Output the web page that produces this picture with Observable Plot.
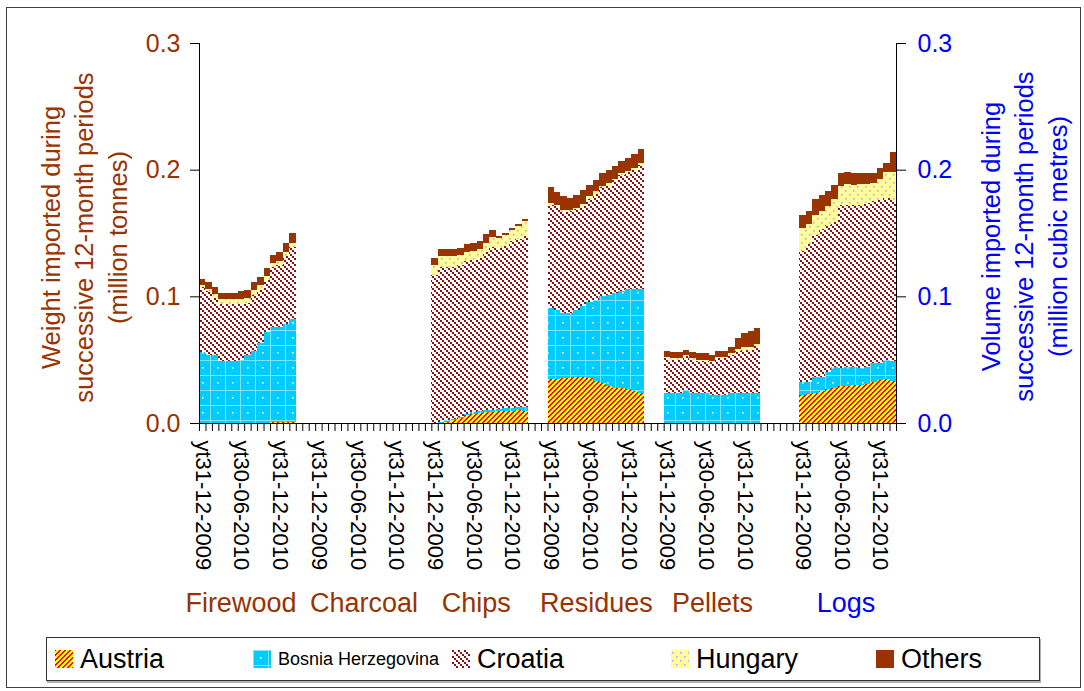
<!DOCTYPE html>
<html>
<head>
<meta charset="utf-8">
<script src="https://cdn.jsdelivr.net/npm/d3@7"></script>
<script src="https://cdn.jsdelivr.net/npm/@observablehq/plot@0.6"></script>
<style>
  html, body { margin: 0; padding: 0; background: #fff; }
  body { width: 1084px; height: 691px; position: relative; overflow: hidden;
         font-family: Arial, "Liberation Sans", sans-serif; }
  #chart { position: absolute; left: 0; top: 0; }
  #frame { position: absolute; left: 6px; top: 7px; width: 1075px; height: 681px;
           border: 1px solid #404040; box-sizing: border-box; pointer-events: none; }
  #legend { position: absolute; left: 46px; top: 637px; width: 994px; height: 44px;
            box-sizing: border-box; border: 1px solid #333; background: #fff;
            box-shadow: 1px 2px 0 #b0b0b0; }
  .item { position: absolute; top: 0; height: 42px; display: flex; align-items: center;
          color: #000; font-size: 27px; white-space: nowrap; }
  .item svg { margin-right: 7px; flex: none; }
  .item.small { font-size: 18px; }
</style>
</head>
<body>
<!-- fill patterns shared by the bars and the legend swatches -->
<svg width="0" height="0" style="position:absolute">
  <defs>
    <pattern id="pat-austria" patternUnits="userSpaceOnUse" width="5" height="5">
      <rect width="5" height="5" fill="#ffff00"/>
      <path d="M4,0h1v1h-1z M0,0h1v1h-1z M3,1h2v1h-2z M2,2h2v1h-2z M1,3h2v1h-2z M0,4h2v1h-2z" fill="#ff0000"/>
    </pattern>
    <pattern id="pat-bosnia" patternUnits="userSpaceOnUse" width="15" height="15">
      <rect width="15" height="15" fill="#00ccff"/>
      <path d="M0,0.5H15 M0.5,0V15" stroke="#80e4ff" stroke-width="1"/>
      <rect x="7" y="7" width="1.6" height="1.6" fill="#ffffff"/>
    </pattern>
    <pattern id="pat-croatia" patternUnits="userSpaceOnUse" width="6" height="6">
      <rect width="6" height="6" fill="#ffffff"/>
      <path d="M0,0h2v2h-2z M2,2h2v2h-2z M4,4h2v2h-2z" fill="#8e1010"/>
    </pattern>
    <pattern id="pat-hungary" patternUnits="userSpaceOnUse" width="8" height="8">
      <rect width="8" height="8" fill="#ffff99"/>
      <rect x="1" y="2" width="1.6" height="1.6" fill="#cc99ff"/>
      <rect x="5" y="6" width="1.6" height="1.6" fill="#cc99ff"/>
    </pattern>
  </defs>
</svg>

<div id="chart"></div>
<div id="legend"></div>
<div id="frame"></div>

<script>
// Product groups and the 12-month periods ending at each month-end
const groups = ["Firewood", "Charcoal", "Chips", "Residues", "Pellets", "Logs"];
const volumeGroups = ["Logs"]; // measured in cubic metres (right axis)
const periods = [
  "yt31-12-2009", "yt31-01-2010", "yt28-02-2010", "yt31-03-2010", "yt30-04-2010",
  "yt31-05-2010", "yt30-06-2010", "yt31-07-2010", "yt31-08-2010", "yt30-09-2010",
  "yt31-10-2010", "yt30-11-2010", "yt31-12-2010", "yt31-01-2011", "yt28-02-2011"
];
const labelledPeriods = ["yt31-12-2009", "yt30-06-2010", "yt31-12-2010"];

// Exporting countries, bottom of the stack first
const countries = ["Austria", "Bosnia Herzegovina", "Croatia", "Hungary", "Others"];
const countryFills = ["url(#pat-austria)", "url(#pat-bosnia)", "url(#pat-croatia)", "url(#pat-hungary)", "#993300"];

// Firewood (million tonnes)
const firewoodAT = [0, 0, 0, 0, 0, 0, 0, 0, 0, 0, 0, 0.001, 0.001, 0.001, 0.001];
const firewoodBA = [0.056, 0.054, 0.054, 0.049, 0.049, 0.049, 0.050, 0.054, 0.057, 0.063, 0.072, 0.075, 0.075, 0.077, 0.081];
const firewoodHR = [0.051, 0.050, 0.045, 0.045, 0.045, 0.045, 0.044, 0.041, 0.044, 0.042, 0.041, 0.047, 0.049, 0.054, 0.057];
const firewoodHU = [0.002, 0.002, 0.003, 0.004, 0.004, 0.004, 0.004, 0.004, 0.004, 0.004, 0.003, 0.003, 0.003, 0.003, 0.003];
const firewoodOT = [0.005, 0.005, 0.005, 0.005, 0.005, 0.005, 0.006, 0.006, 0.006, 0.006, 0.006, 0.007, 0.007, 0.007, 0.008];

// Charcoal (million tonnes)
const charcoalAT = [0, 0, 0, 0, 0, 0, 0, 0, 0, 0, 0, 0, 0, 0, 0];
const charcoalBA = [0, 0, 0, 0, 0, 0, 0, 0, 0, 0, 0, 0, 0, 0, 0];
const charcoalHR = [0, 0, 0, 0, 0, 0, 0, 0, 0, 0, 0, 0, 0, 0, 0];
const charcoalHU = [0, 0, 0, 0, 0, 0, 0, 0, 0, 0, 0, 0, 0, 0, 0];
const charcoalOT = [0.0002, 0.0002, 0.0002, 0.0002, 0.0002, 0.0002, 0.0002, 0.0002, 0.0002, 0.0002, 0.0002, 0.0002, 0.0002, 0.0002, 0.0002];

// Chips (million tonnes)
const chipsAT = [0, 0, 0.001, 0.0025, 0.004, 0.006, 0.007, 0.008, 0.009, 0.009, 0.0095, 0.0095, 0.0095, 0.010, 0.0095];
const chipsBA = [0, 0.0005, 0.001, 0.001, 0.001, 0.001, 0.0015, 0.0015, 0.0015, 0.0015, 0.0015, 0.002, 0.002, 0.003, 0.003];
const chipsHR = [0.117, 0.1225, 0.121, 0.1195, 0.120, 0.121, 0.1205, 0.1205, 0.1245, 0.1285, 0.127, 0.128, 0.132, 0.1325, 0.135];
const chipsHU = [0.008, 0.009, 0.009, 0.009, 0.008, 0.007, 0.007, 0.007, 0.007, 0.008, 0.008, 0.009, 0.009, 0.010, 0.012];
const chipsOT = [0.005, 0.005, 0.005, 0.005, 0.005, 0.006, 0.006, 0.007, 0.007, 0.005, 0.002, 0.0015, 0.0015, 0.0015, 0.0015];

// Residues (million tonnes)
const residuesAT = [0.035, 0.035, 0.0355, 0.0355, 0.036, 0.036, 0.0355, 0.0335, 0.0315, 0.029, 0.0275, 0.0275, 0.027, 0.025, 0.024];
const residuesBA = [0.056, 0.0545, 0.051, 0.051, 0.053, 0.056, 0.060, 0.064, 0.0685, 0.072, 0.075, 0.0765, 0.079, 0.081, 0.082];
const residuesHR = [0.081, 0.0815, 0.080, 0.081, 0.080, 0.079, 0.0815, 0.0835, 0.086, 0.0865, 0.0895, 0.092, 0.092, 0.094, 0.098];
const residuesHU = [0.002, 0.001, 0.002, 0.001, 0.001, 0.002, 0.002, 0.002, 0.001, 0.002, 0.001, 0.001, 0.001, 0.001, 0.001];
const residuesOT = [0.012, 0.010, 0.011, 0.009, 0.010, 0.011, 0.009, 0.009, 0.010, 0.010, 0.010, 0.010, 0.010, 0.011, 0.011];

// Pellets (million tonnes)
const pelletsAT = [0, 0, 0, 0, 0, 0, 0, 0, 0, 0, 0, 0, 0, 0, 0];
const pelletsBA = [0.024, 0.024, 0.024, 0.026, 0.024, 0.024, 0.024, 0.022, 0.022, 0.022, 0.024, 0.024, 0.024, 0.024, 0.024];
const pelletsHR = [0.027, 0.026, 0.026, 0.027, 0.026, 0.025, 0.025, 0.026, 0.0295, 0.0295, 0.030, 0.0325, 0.034, 0.034, 0.0365];
const pelletsHU = [0.0015, 0.001, 0.001, 0.001, 0.001, 0.001, 0.001, 0.001, 0.001, 0.001, 0.0015, 0.002, 0.002, 0.002, 0.002];
const pelletsOT = [0.0045, 0.005, 0.005, 0.004, 0.005, 0.005, 0.005, 0.005, 0.0045, 0.0045, 0.0045, 0.0085, 0.011, 0.013, 0.0125];

// Logs (million cubic metres)
const logsAT = [0.022, 0.023, 0.024, 0.025, 0.027, 0.028, 0.029, 0.0295, 0.030, 0.030, 0.031, 0.032, 0.034, 0.035, 0.033];
const logsBA = [0.010, 0.009, 0.012, 0.011, 0.013, 0.016, 0.0145, 0.0145, 0.014, 0.0135, 0.013, 0.0155, 0.013, 0.015, 0.016];
const logsHR = [0.104, 0.109, 0.1125, 0.117, 0.116, 0.115, 0.129, 0.128, 0.128, 0.1285, 0.1295, 0.128, 0.129, 0.1275, 0.127];
const logsHU = [0.018, 0.016, 0.016, 0.0145, 0.015, 0.018, 0.0145, 0.0165, 0.016, 0.0165, 0.015, 0.014, 0.017, 0.0205, 0.0225];
const logsOT = [0.0105, 0.0105, 0.012, 0.0125, 0.0125, 0.011, 0.010, 0.010, 0.0095, 0.009, 0.0085, 0.0075, 0.0085, 0.0075, 0.0155];

const seriesByGroup = {
  Firewood: [firewoodAT, firewoodBA, firewoodHR, firewoodHU, firewoodOT],
  Charcoal: [charcoalAT, charcoalBA, charcoalHR, charcoalHU, charcoalOT],
  Chips:    [chipsAT, chipsBA, chipsHR, chipsHU, chipsOT],
  Residues: [residuesAT, residuesBA, residuesHR, residuesHU, residuesOT],
  Pellets:  [pelletsAT, pelletsBA, pelletsHR, pelletsHU, pelletsOT],
  Logs:     [logsAT, logsBA, logsHR, logsHU, logsOT]
};

// Category slots: each group takes one slot per period, separated by empty slots;
// the volume-based group sits a little further apart.
const gapSlots = 3;
const groupStart = {};
let cursor = 0;
for (const g of groups) {
  if (volumeGroups.includes(g)) cursor += gapSlots;
  groupStart[g] = cursor;
  cursor += periods.length + gapSlots;
}
const slotCount = groupStart[groups[groups.length - 1]] + periods.length;

const rows = [];
for (const g of groups) {
  periods.forEach((p, i) => {
    countries.forEach((c, k) => {
      rows.push({group: g, period: p, country: c,
                 x1: groupStart[g] + i, x2: groupStart[g] + i + 1,
                 value: seriesByGroup[g][k][i]});
    });
  });
}

const periodLabels = [];
for (const g of groups) {
  periods.forEach((p, i) => {
    if (labelledPeriods.includes(p)) periodLabels.push({x: groupStart[g] + i + 0.5, label: p});
  });
}
// small horizontal nudges keep the wider group names apart
const labelNudge = {Firewood: -7, Chips: -4, Logs: -2};
const groupLabels = groups.map(g => ({
  name: g, x: groupStart[g] + periods.length / 2, volume: volumeGroups.includes(g)
}));

const brown = "#993300";
const blue = "#0000ff";
const font = 'Arial, "Liberation Sans", sans-serif';

const groupText = (volume, color) => groupLabels
  .filter(d => d.volume === volume)
  .map(d => Plot.text([d], {x: "x", y: 0, text: "name", dx: labelNudge[d.name] || 0, dy: 180, fontSize: 27, fill: color}));

const chart = Plot.plot({
  width: 1084,
  height: 630,
  marginLeft: 199,
  marginRight: 188,
  marginTop: 43,
  marginBottom: 207,
  style: {fontFamily: font, background: "transparent", color: "#000", overflow: "visible"},
  x: {domain: [0, slotCount], axis: null},
  y: {domain: [0, 0.3], axis: null},
  color: {domain: countries, range: countryFills},
  marks: [
    Plot.rectY(rows, {x1: "x1", x2: "x2", y: "value", fill: "country", shapeRendering: "crispEdges"}),
    Plot.ruleY([0], {stroke: "#000"}),
    Plot.ruleX([0, slotCount], {stroke: "#000"}),
    Plot.axisX({ticks: d3.range(0, slotCount + 1), tickSize: 8, tickFormat: () => "", label: null, stroke: "#000"}),
    Plot.axisY({anchor: "left", ticks: [0, 0.1, 0.2, 0.3], tickFormat: ".1f", tickSize: 9, tickPadding: 10,
                fontSize: 25, fill: brown, stroke: "#000", label: null}),
    Plot.axisY({anchor: "right", ticks: [0, 0.1, 0.2, 0.3], tickFormat: ".1f", tickSize: 9, tickPadding: 12,
                fontSize: 25, fill: blue, stroke: "#000", label: null}),
    Plot.text(periodLabels, {x: "x", y: 0, text: "label", rotate: 90, textAnchor: "start",
                             lineAnchor: "middle", dy: 17, fontSize: 22, fill: "#000"}),
    ...groupText(false, brown),
    ...groupText(true, blue),
    Plot.text(["Weight imported during\nsuccessive 12-month periods\n(million tonnes)"],
              {frameAnchor: "left", textAnchor: "middle", lineAnchor: "middle", rotate: -90,
               dx: -117, dy: 4, fontSize: 25.5, lineHeight: 1.32, fill: brown}),
    Plot.text(["Volume imported during\nsuccessive 12-month periods\n(million cubic metres)"],
              {frameAnchor: "right", textAnchor: "middle", lineAnchor: "middle", rotate: -90,
               dx: 126, dy: 3, fontSize: 25.5, lineHeight: 1.32, fill: blue})
  ]
});
document.getElementById("chart").append(chart);

// Legend
const legendLeft = [8, 206, 405, 624, 829];
const legend = document.getElementById("legend");
countries.forEach((c, k) => {
  const item = document.createElement("div");
  item.className = "item" + (c === "Bosnia Herzegovina" ? " small" : "");
  item.style.left = legendLeft[k] + "px";
  item.innerHTML = `<svg width="18" height="18"><rect width="18" height="18" fill="${countryFills[k]}"/></svg><span>${c}</span>`;
  legend.append(item);
});
</script>
</body>
</html>
